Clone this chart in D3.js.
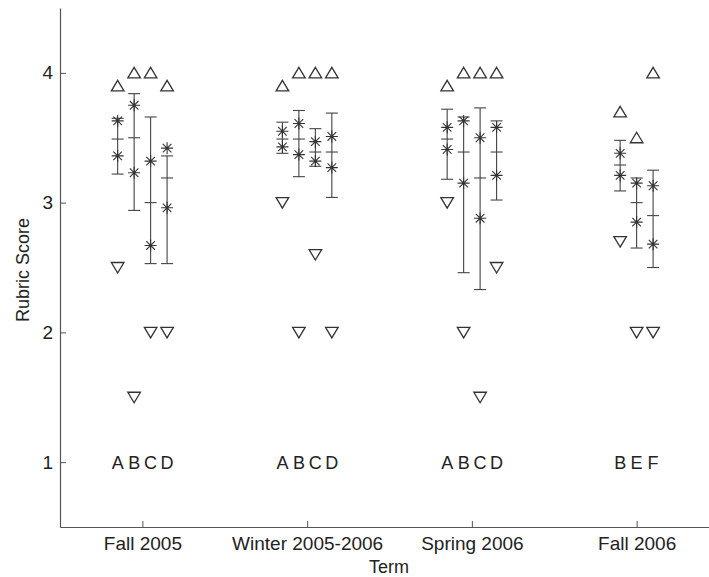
<!DOCTYPE html>
<html>
<head>
<meta charset="utf-8">
<script src="https://cdn.jsdelivr.net/npm/d3@7"></script>
<style>
  body { margin: 0; background: #fff; }
  text { font-family: "Liberation Sans", Arial, sans-serif; fill: #222; }
</style>
</head>
<body>
<div id="chart"></div>
<script>
// Data
var terms = ["Fall 2005", "Winter 2005-2006", "Spring 2006", "Fall 2006"];
var sections = [["A", "B", "C", "D"], ["A", "B", "C", "D"], ["A", "B", "C", "D"], ["B", "E", "F"]];

var maxScore  = [[3.9, 4.0, 4.0, 3.9], [3.9, 4.0, 4.0, 4.0], [3.9, 4.0, 4.0, 4.0], [3.7, 3.5, 4.0]];
var upperBar  = [[3.65, 3.84, 3.66, 3.36], [3.62, 3.71, 3.57, 3.69], [3.72, 3.66, 3.73, 3.63], [3.48, 3.19, 3.25]];
var upperStar = [[3.63, 3.75, 3.32, 3.42], [3.55, 3.61, 3.47, 3.51], [3.58, 3.63, 3.50, 3.58], [3.38, 3.15, 3.13]];
var meanScore = [[3.49, 3.50, 3.00, 3.19], [3.49, 3.49, 3.39, 3.39], [3.49, 3.39, 3.19, 3.39], [3.29, 3.00, 2.90]];
var lowerStar = [[3.36, 3.23, 2.67, 2.96], [3.43, 3.37, 3.32, 3.27], [3.41, 3.15, 2.88, 3.21], [3.21, 2.85, 2.68]];
var lowerBar  = [[3.22, 2.94, 2.53, 2.53], [3.38, 3.20, 3.28, 3.04], [3.18, 2.46, 2.33, 3.02], [3.09, 2.65, 2.50]];
var minScore  = [[2.5, 1.5, 2.0, 2.0], [3.0, 2.0, 2.6, 2.0], [3.0, 2.0, 1.5, 2.5], [2.7, 2.0, 2.0]];

var yTicks = [1, 2, 3, 4];

var svgWidth = 709;
var svgHeight = 577;

var svg = d3.select("#chart")
  .append("svg")
  .attr("width", svgWidth)
  .attr("height", svgHeight);

var x = d3.scaleLinear().domain([0.5, 4.5]).range([60, 719]);
var y = d3.scaleLinear().domain([0.5, 4.5]).range([527, 8]);

// flatten into one row per section column
var cols = [];
terms.forEach(function(t, ti) {
  var n = sections[ti].length;
  sections[ti].forEach(function(s, si) {
    cols.push({
      pos: ti + 1 + (si - (n - 1) / 2) * 0.1,
      label: s,
      max: maxScore[ti][si],
      hi: upperBar[ti][si],
      s1: upperStar[ti][si],
      mean: meanScore[ti][si],
      s2: lowerStar[ti][si],
      lo: lowerBar[ti][si],
      min: minScore[ti][si]
    });
  });
});

// Axes (ticks pointing inward)
var xAxis = svg.append("g")
  .attr("transform", "translate(0," + y(0.5) + ")")
  .call(d3.axisBottom(x).tickValues([1, 2, 3, 4])
    .tickFormat(function(d) { return terms[d - 1]; })
    .tickSizeInner(-6).tickSizeOuter(0).tickPadding(10));

var yAxis = svg.append("g")
  .attr("transform", "translate(" + x(0.5) + ",0)")
  .call(d3.axisLeft(y).tickValues(yTicks).tickFormat(d3.format("d"))
    .tickSizeInner(-6).tickSizeOuter(0).tickPadding(7));

[xAxis, yAxis].forEach(function(a) {
  a.select(".domain").attr("stroke", "#555").attr("stroke-width", 1.2);
  a.selectAll(".tick line").attr("stroke", "#555");
  a.selectAll("text").style("font-size", "19px").attr("fill", "#222");
});

svg.append("text")
  .attr("x", 389).attr("y", 573)
  .attr("text-anchor", "middle")
  .style("font-size", "18px")
  .text("Term");

svg.append("text")
  .attr("transform", "translate(29,270) rotate(-90)")
  .attr("text-anchor", "middle")
  .style("font-size", "18px")
  .text("Rubric Score");

var g = svg.append("g").attr("stroke", "#444").attr("fill", "none").attr("stroke-width", 1.1);

// error bars
g.selectAll(".bar").data(cols).enter().append("line")
  .attr("x1", d => x(d.pos)).attr("x2", d => x(d.pos))
  .attr("y1", d => y(d.hi)).attr("y2", d => y(d.lo));

["hi", "mean", "lo"].forEach(function(k) {
  g.selectAll(".cap-" + k).data(cols).enter().append("line")
    .attr("x1", d => x(d.pos) - 6).attr("x2", d => x(d.pos) + 6)
    .attr("y1", d => y(d[k])).attr("y2", d => y(d[k]));
});

// asterisks
var star = "M-6,0H6M0,-6V6M-4.3,-4.3L4.3,4.3M-4.3,4.3L4.3,-4.3";
["s1", "s2"].forEach(function(k) {
  g.selectAll(".star-" + k).data(cols).enter().append("path")
    .attr("d", star)
    .attr("stroke", "#333")
    .attr("transform", d => "translate(" + x(d.pos) + "," + y(d[k]) + ")");
});

// max / min triangles
g.selectAll(".up").data(cols).enter().append("path")
  .attr("d", "M0,-5.5L6.3,5L-6.3,5Z")
  .attr("stroke", "#333").attr("stroke-width", 1.3)
  .attr("transform", d => "translate(" + x(d.pos) + "," + y(d.max) + ")");

g.selectAll(".down").data(cols).enter().append("path")
  .attr("d", "M0,5.5L6.3,-5L-6.3,-5Z")
  .attr("stroke", "#333").attr("stroke-width", 1.3)
  .attr("transform", d => "translate(" + x(d.pos) + "," + y(d.min) + ")");

// section letters at score 1
svg.selectAll(".sec").data(cols).enter().append("text")
  .attr("x", d => x(d.pos)).attr("y", y(1))
  .attr("dy", "0.36em")
  .attr("text-anchor", "middle")
  .style("font-size", "18px")
  .text(d => d.label);
</script>
</body>
</html>
